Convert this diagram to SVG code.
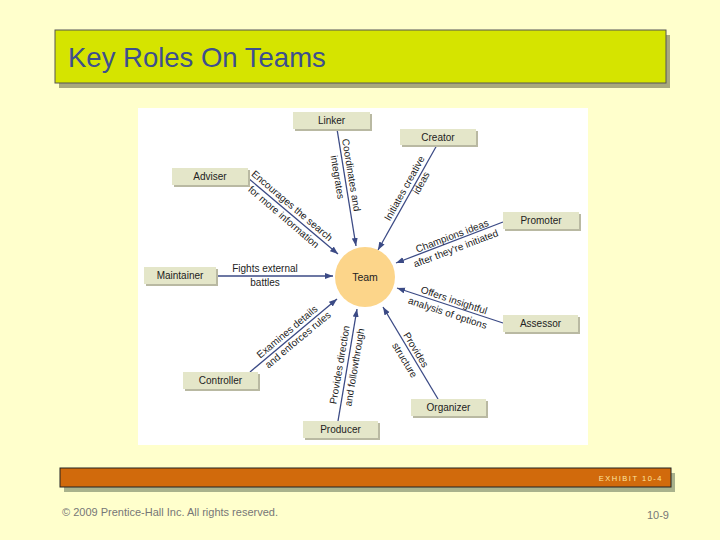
<svg xmlns="http://www.w3.org/2000/svg" width="720" height="540" viewBox="0 0 720 540">
<defs>
<marker id="ah" markerUnits="userSpaceOnUse" markerWidth="9" markerHeight="7" refX="8" refY="3" orient="auto">
<path d="M0,0 L8,3 L0,6 z" fill="#3b4a85"/>
</marker>
<style>
.node rect.sh{fill:#b9b9a2}
.node rect.bx{fill:#e4e6c9}
.node text{font-family:"Liberation Sans",Arial,sans-serif;font-size:10px;fill:#222;text-anchor:middle}
.lbl text{font-family:"Liberation Sans",Arial,sans-serif;font-size:10px;fill:#222;text-anchor:middle}
.conn line{stroke:#3b4a85;stroke-width:1.3;marker-end:url(#ah)}
</style>
</defs>
<rect x="0" y="0" width="720" height="540" fill="#ffffcc"/>
<g id="title">
<rect x="59" y="35" width="611" height="53" fill="#a8a87e"/>
<rect x="55" y="30" width="611" height="53" fill="#d5e400" stroke="#555" stroke-width="1"/>
<text x="68" y="67" font-family="Liberation Sans,Arial,sans-serif" font-size="27.5" fill="#3d4f8e">Key Roles On Teams</text>
</g>
<rect x="138" y="108" width="450" height="337" fill="#ffffff"/>
<g id="connectors" class="conn">
<line x1="337" y1="129" x2="356" y2="246"/>
<line x1="437" y1="145" x2="378" y2="250"/>
<line x1="248" y1="178" x2="338" y2="254"/>
<line x1="503" y1="222" x2="396" y2="263"/>
<line x1="216" y1="276" x2="333" y2="276"/>
<line x1="250" y1="372" x2="337" y2="299"/>
<line x1="338" y1="421" x2="357" y2="309"/>
<line x1="438" y1="399" x2="383" y2="307"/>
<line x1="503" y1="323" x2="397" y2="288"/>
</g>
<g id="labels" class="lbl">
<g transform="translate(345,176) rotate(80.7)"><text x="0" y="-3">Coordinates and</text><text x="0" y="11">integrates</text></g>
<g transform="translate(412,188) rotate(-60.9)"><text x="-4" y="-3">Initiates creative</text><text x="9" y="9">ideas</text></g>
<g transform="translate(288,212) rotate(40.5)"><text x="-1" y="-4">Encourages the search</text><text x="0" y="10">for more information</text></g>
<g transform="translate(454,241) rotate(-20.8)"><text x="0" y="-2">Champions ideas</text><text x="-1" y="11">after they're initiated</text></g>
<g transform="translate(265,276)"><text x="0" y="-4">Fights external</text><text x="0" y="10">battles</text></g>
<g transform="translate(292,336) rotate(-40)"><text x="-1" y="-3">Examines details</text><text x="2" y="10">and enforces rules</text></g>
<g transform="translate(347,366) rotate(-80.3)"><text x="0" y="-4">Provides direction</text><text x="0" y="11">and followthrough</text></g>
<g transform="translate(411,354) rotate(58.6)"><text x="-1" y="-3">Provides</text><text x="2" y="12">structure</text></g>
<g transform="translate(451,306) rotate(18.3)"><text x="1" y="-3">Offers insightful</text><text x="-1" y="11">analysis of options</text></g>
</g>
<g id="team">
<circle cx="365" cy="277" r="30" fill="#fcd58a"/>
<text x="365" y="281" font-family="Liberation Sans,Arial,sans-serif" font-size="10.5" fill="#222" text-anchor="middle">Team</text>
</g>
<g id="linker" class="node"><rect class="sh" x="295" y="114" width="77" height="17"/><rect class="bx" x="293" y="112" width="77" height="17"/><text x="331.5" y="124">Linker</text></g>
<g id="creator" class="node"><rect class="sh" x="402" y="131" width="76" height="16"/><rect class="bx" x="400" y="129" width="76" height="16"/><text x="438" y="140.5">Creator</text></g>
<g id="adviser" class="node"><rect class="sh" x="174" y="170" width="76" height="17"/><rect class="bx" x="172" y="168" width="76" height="17"/><text x="210" y="180">Adviser</text></g>
<g id="promoter" class="node"><rect class="sh" x="505" y="214" width="76" height="17"/><rect class="bx" x="503" y="212" width="76" height="17"/><text x="541" y="224">Promoter</text></g>
<g id="maintainer" class="node"><rect class="sh" x="146" y="269" width="72" height="17"/><rect class="bx" x="144" y="267" width="72" height="17"/><text x="180" y="279">Maintainer</text></g>
<g id="controller" class="node"><rect class="sh" x="185" y="374" width="75" height="17"/><rect class="bx" x="183" y="372" width="75" height="17"/><text x="220.5" y="384">Controller</text></g>
<g id="producer" class="node"><rect class="sh" x="305" y="423" width="75" height="17"/><rect class="bx" x="303" y="421" width="75" height="17"/><text x="340.5" y="433">Producer</text></g>
<g id="organizer" class="node"><rect class="sh" x="413" y="401" width="75" height="17"/><rect class="bx" x="411" y="399" width="75" height="17"/><text x="448.5" y="411">Organizer</text></g>
<g id="assessor" class="node"><rect class="sh" x="505" y="317" width="75" height="17"/><rect class="bx" x="503" y="315" width="75" height="17"/><text x="540.5" y="327">Assessor</text></g>
<g id="footer">
<rect x="64" y="473" width="611" height="19" fill="#a9b28c"/>
<rect x="60" y="468" width="611" height="19" fill="#d16a0c" stroke="#222" stroke-width="1"/>
<text x="663" y="481" font-family="Liberation Sans,Arial,sans-serif" font-size="7.5" fill="#ffe6a0" text-anchor="end" letter-spacing="1.5">EXHIBIT 10-4</text>
<text x="62" y="516" font-family="Liberation Sans,Arial,sans-serif" font-size="11" fill="#777">© 2009 Prentice-Hall Inc.  All rights reserved.</text>
<text x="669" y="519" font-family="Liberation Sans,Arial,sans-serif" font-size="11" fill="#777" text-anchor="end">10-9</text>
</g>
</svg>
